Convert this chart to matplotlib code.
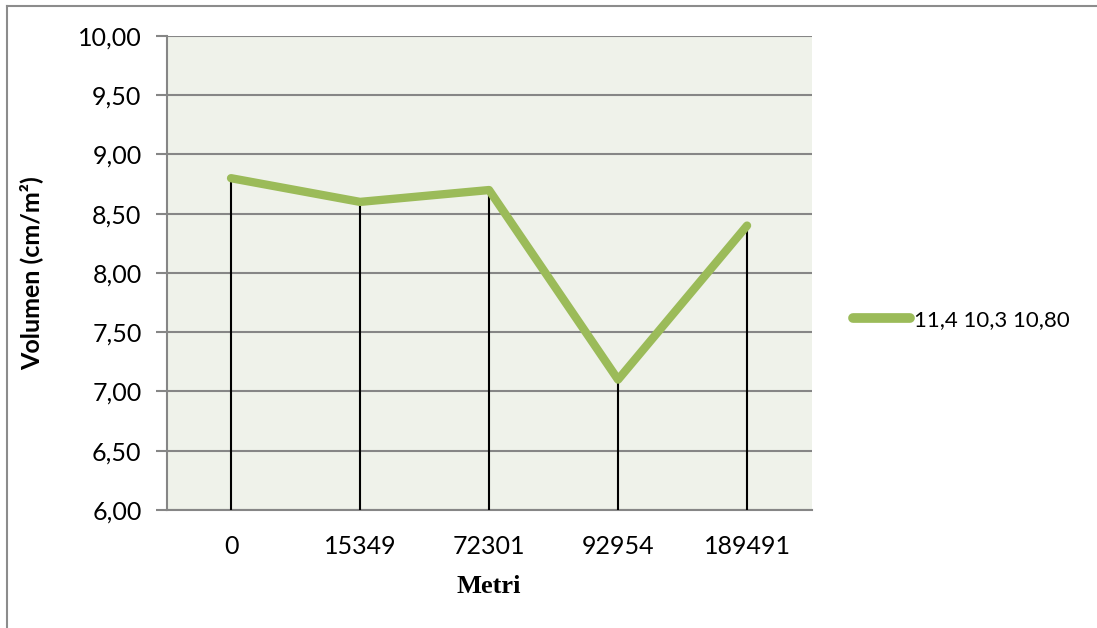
import matplotlib
matplotlib.use("Agg")
import matplotlib.pyplot as plt
from matplotlib.lines import Line2D

# 数据
categories = ["0", "15349", "72301", "92954", "189491"]
values = [8.80, 8.60, 8.70, 7.10, 8.40]
y_ticks = [6.0, 6.5, 7.0, 7.5, 8.0, 8.5, 9.0, 9.5, 10.0]
series_name = "11,4 10,3 10,80"

LINE_COLOR = "#9BBB59"
GRID_COLOR = "#868686"
BG_COLOR = "#EFF2EA"

plt.rcParams["font.family"] = ["Lato", "DejaVu Sans"]

fig = plt.figure(figsize=(10.97, 6.28), dpi=100)
ax = fig.add_axes([0.1518, 0.1879, 0.588, 0.7548])
ax.set_facecolor(BG_COLOR)

x = list(range(len(categories)))

# 垂直引线
ax.vlines(x, 6.0, values, colors="black", linewidth=1.5, zorder=3)
# 数据折线
ax.plot(x, values, color=LINE_COLOR, linewidth=6, solid_capstyle="round",
        solid_joinstyle="round", zorder=4)

ax.set_xlim(-0.5, len(categories) - 0.5)
ax.set_ylim(6.0, 10.0)
ax.set_xticks(x)
ax.set_xticklabels(categories, fontsize=18)
ax.set_yticks(y_ticks)
ax.set_yticklabels([f"{v:.2f}".replace(".", ",") for v in y_ticks], fontsize=18)
ax.tick_params(axis="x", length=0, pad=18)
ax.tick_params(axis="y", length=8, width=1.5, color=GRID_COLOR, pad=10)

ax.grid(axis="y", color=GRID_COLOR, linewidth=1.5)
ax.set_axisbelow(True)
for side in ["top", "right"]:
    ax.spines[side].set_visible(False)
ax.spines["left"].set_color(GRID_COLOR)
ax.spines["left"].set_linewidth(1.5)
ax.spines["bottom"].set_color(GRID_COLOR)
ax.spines["bottom"].set_linewidth(1.5)

ax.set_xlabel("Metri", fontsize=19, fontweight="bold",
              family="Liberation Serif", labelpad=12)
ax.set_ylabel("Volumen (cm/m²)", fontsize=18, fontweight="bold", labelpad=25)

# 图例
handle = Line2D([0], [0], color=LINE_COLOR, linewidth=7, solid_capstyle="round")
fig.legend([handle], [series_name], loc="center left",
           bbox_to_anchor=(853 / 1097, 1 - 320 / 628),
           frameon=False, fontsize=16, handlelength=2.55, handletextpad=0.2,
           borderpad=0, borderaxespad=0)

# 外框（上、左）
fig.add_artist(Line2D([0.0064, 1.0], [0.9904, 0.9904], color="#8C8C8C", linewidth=1.5))
fig.add_artist(Line2D([0.0064, 0.0064], [0.0, 0.9904], color="#8C8C8C", linewidth=1.5))

fig.savefig("out.png", dpi=100)
